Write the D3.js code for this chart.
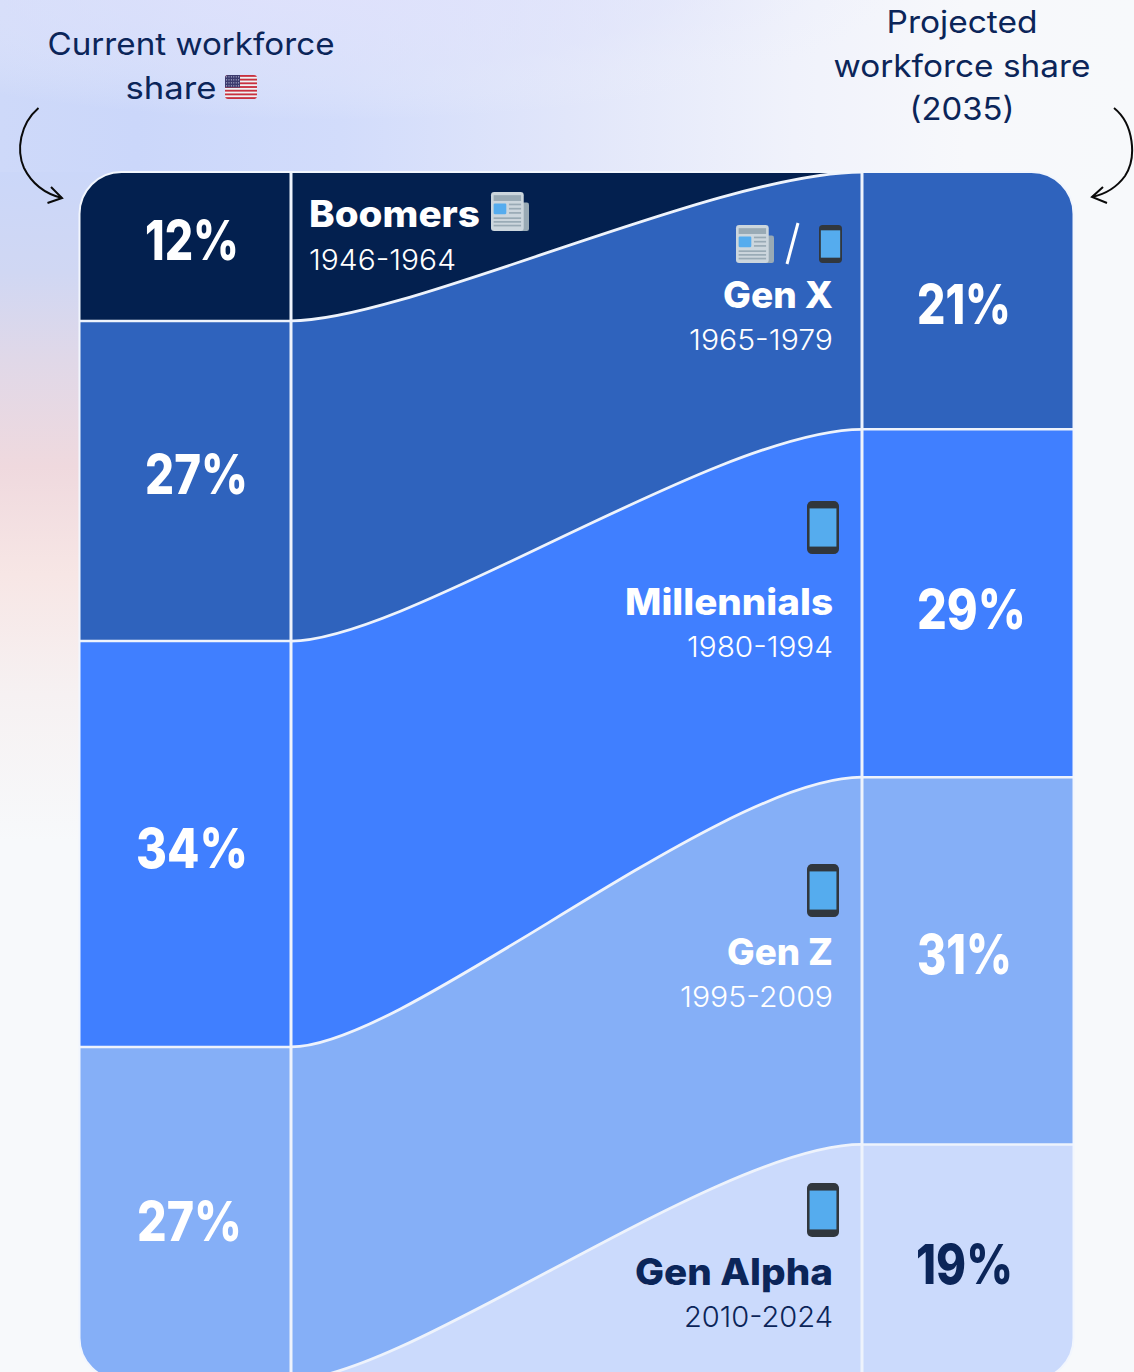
<!DOCTYPE html>
<html><head><meta charset="utf-8">
<script src="https://cdn.jsdelivr.net/npm/d3@7/dist/d3.min.js"></script>
<style>html,body{margin:0;padding:0;background:#f7f9fb;overflow:hidden}svg{display:block}</style>
</head><body><svg id="c" width="1134" height="1372"></svg>
<script>
const generations = ["Boomers","Gen X","Millennials","Gen Z","Gen Alpha"];
const birthYears = ["1946-1964","1965-1979","1980-1994","1995-2009","2010-2024"];
const currentLabels = [12,27,34,27];
const projectedLabels = [21,29,31,19];
// band heights (percent of the column)
const currentBands = [12.33,26.5,33.6,27.57];
const projectedBands = [21.3,28.8,30.4,19.5];
const colors = ["#03204f","#2f63bd","#407fff","#85aff7","#cbdafc"];
const darkText = "#0b2559";

const svg = d3.select("#c");
const defs = svg.append("defs");
function gradient(type,id,stops,attrs){
  const g = defs.append(type).attr("id",id);
  Object.entries(attrs||{}).forEach(([k,v])=>g.attr(k,v));
  stops.forEach(s=>g.append("stop").attr("offset",s[0]).attr("stop-color",s[1]).attr("stop-opacity",s[2]===undefined?1:s[2]));
}
gradient("linearGradient","topBand",[[0,"#ced9f9"],[.12,"#cbd7fa"],[.3,"#d2dcfb"],[.5,"#e1e6fa"],[.7,"#f0f2fb"],[.85,"#f7f8fb"],[1,"#f7f9fb"]],{x1:0,x2:1,y1:0,y2:0});
gradient("linearGradient","leftBand",[[0,"#cbd7f9"],[.15,"#d0d7f3"],[.28,"#e0d8e8"],[.44,"#efd9de"],[.6,"#f7e6e5"],[.78,"#f6f1f2"],[1,"#f7f9fb"]],{x1:0,x2:0,y1:0,y2:1});
gradient("radialGradient","lav",[[0,"#e0e2fc",.9],[.6,"#e2e5fb",.5],[1,"#eef0fb",0]]);
svg.append("rect").attr("width",1134).attr("height",180).attr("fill","url(#topBand)");
svg.append("rect").attr("y",172).attr("width",140).attr("height",670).attr("fill","url(#leftBand)");
svg.append("ellipse").attr("cx",330).attr("cy",-10).attr("rx",560).attr("ry",130).attr("fill","url(#lav)");

const cardTop = 172, cardBottom = 1380, L = 79.5, R = 1073.5, colL = 291, colR = 862, radius = 42;
const handleLeft = 0.2, handleRight = 0.25; // reach of the curve control points, as a share of the column gap
const y = d3.scaleLinear().domain([0,100]).range([cardTop,cardBottom]);
const leftEnds = Array.from(d3.cumsum(currentBands));
const rightEnds = Array.from(d3.cumsum(projectedBands));

defs.append("clipPath").attr("id","card").append("rect")
  .attr("x",L).attr("y",cardTop).attr("width",R-L).attr("height",cardBottom-cardTop).attr("rx",radius);
const card = svg.append("g").attr("clip-path","url(#card)");
card.append("rect").attr("x",L).attr("y",cardTop).attr("width",R-L).attr("height",cardBottom-cardTop).attr("fill",colors[0]);

function flowCurve(a,b){
  const p = d3.path(), w = colR-colL;
  p.moveTo(colL,y(a));
  p.bezierCurveTo(colL+w*handleLeft,y(a),colR-w*handleRight,y(b),colR,y(b));
  return p.toString();
}
const lineColor = "#eef3fc";

// flowing middle: stacked from the top, each later band painted over the previous one
const flows = [
  {fill:colors[1], l:leftEnds[0], r:0},
  {fill:colors[2], l:leftEnds[1], r:rightEnds[0]},
  {fill:colors[3], l:leftEnds[2], r:rightEnds[1]},
  {fill:colors[4], l:leftEnds[3], r:rightEnds[2]}
];
flows.forEach(f=>{
  const curve = flowCurve(f.l,f.r);
  card.append("path").attr("d",curve+`L${colR},${cardBottom+10}L${colL},${cardBottom+10}Z`).attr("fill",f.fill);
  card.append("path").attr("d",curve).attr("fill","none").attr("stroke",lineColor).attr("stroke-width",2.8);
});

// side columns
function column(x0,x1,bands,firstColor){
  let start = 0;
  bands.forEach((b,i)=>{
    card.append("rect").attr("x",x0).attr("y",y(start)).attr("width",x1-x0).attr("height",y(start+b)-y(start))
      .attr("fill",colors[firstColor+i]);
    if(i) card.append("line").attr("x1",x0).attr("x2",x1).attr("y1",y(start)).attr("y2",y(start))
      .attr("stroke",lineColor).attr("stroke-width",2.5);
    start += b;
  });
}
column(L,colL,currentBands,0);
column(colR,R,projectedBands,1);
[colL,colR].forEach(x=>card.append("line").attr("x1",x).attr("x2",x).attr("y1",cardTop).attr("y2",cardBottom)
  .attr("stroke",lineColor).attr("stroke-width",3));
svg.append("rect").attr("x",L).attr("y",cardTop).attr("width",R-L).attr("height",cardBottom-cardTop).attr("rx",radius)
  .attr("fill","none").attr("stroke","#f2f6fd").attr("stroke-width",2);

const FONT = "Inter, 'Open Sans', sans-serif";
function label(s,x,yy,size,weight,fill,anchor,width){
  const t = svg.append("text").attr("x",x).attr("y",yy).attr("font-family",FONT).attr("font-size",size)
    .attr("font-weight",weight).attr("fill",fill).attr("text-anchor",anchor||"start").text(s);
  if(width) t.attr("textLength",width).attr("lengthAdjust","spacingAndGlyphs");
  return t;
}
// headings
label("Current workforce",191,55,31,400,darkText,"middle",287);
label("share",171,99,31,400,darkText,"middle",91);
label("Projected",962,33,31,400,darkText,"middle",151);
label("workforce share",962,77,31,400,darkText,"middle",257);
label("(2035)",962,120,31,400,darkText,"middle",105);

// percentage labels
const fmt = v=>v+"%";
[[145,260,94],[145,494,103],[136,868,112],[137,1241,105]].forEach((p,i)=>
  label(fmt(currentLabels[i]),p[0],p[1],55,800,"#fff","start",p[2]));
[[917,324,94,"#fff"],[917,629,109,"#fff"],[917,974,95,"#fff"],[916,1284,97,darkText]].forEach((p,i)=>
  label(fmt(projectedLabels[i]),p[0],p[1],55,800,p[3],"start",p[2]));

// generation labels
label(generations[0],309,227,37,800,"#fff","start",171);
label(birthYears[0],309,270,29,300,"#fff","start",147);
const rightLabels = [
  [1,308,110,350,144,"#fff"],
  [2,615,208,657,146,"#fff"],
  [3,965,106,1007,153,"#fff"],
  [4,1285,198,1327,149,darkText]
];
rightLabels.forEach(r=>{
  label(generations[r[0]],833,r[1],37,800,r[5],"end",r[2]);
  label(birthYears[r[0]],833,r[3],29,300,r[5],"end",r[4]);
});

// icons
function phone(x,yy,w,h){
  const g = svg.append("g").attr("transform",`translate(${x},${yy})`);
  g.append("rect").attr("width",w).attr("height",h).attr("rx",w*.16).attr("fill","#31373d");
  g.append("rect").attr("x",w*.08).attr("y",h*.14).attr("width",w*.84).attr("height",h*.72).attr("fill","#55acee");
}
function paper(x,yy,w,h){
  const g = svg.append("g").attr("transform",`translate(${x},${yy})`);
  const u = w/36;
  g.append("rect").attr("x",26*u).attr("y",10*u).attr("width",10*u).attr("height",h-10*u).attr("rx",2*u).attr("fill","#99aab5");
  g.append("rect").attr("width",31*u).attr("height",h).attr("rx",3*u).attr("fill","#ccd6dd");
  g.append("rect").attr("x",2.5*u).attr("y",3*u).attr("width",26*u).attr("height",5.5*u).attr("fill","#99aab5");
  g.append("rect").attr("x",2.5*u).attr("y",11*u).attr("width",12*u).attr("height",10*u).attr("rx",1*u).attr("fill","#55acee");
  [11,15,19].forEach(v=>g.append("rect").attr("x",17*u).attr("y",v*u).attr("width",11.5*u).attr("height",1.6*u).attr("fill","#99aab5"));
  [24,27.5,31].forEach(v=>g.append("rect").attr("x",2.5*u).attr("y",v*u).attr("width",26*u).attr("height",1.6*u).attr("fill","#99aab5"));
}
paper(491,192,38,39);
paper(736,225,38,38);
svg.append("line").attr("x1",787).attr("y1",264).attr("x2",798).attr("y2",223).attr("stroke","#fff").attr("stroke-width",3);
phone(819,225,23,38);
phone(807,501,32,53);
phone(807,864,32,53);
phone(807,1183,32,54);

// flag
const flagG = svg.append("g").attr("transform","translate(225,75)");
defs.append("clipPath").attr("id","flagclip").append("rect").attr("width",32).attr("height",24).attr("rx",3);
const fg = flagG.append("g").attr("clip-path","url(#flagclip)");
fg.append("rect").attr("width",32).attr("height",24).attr("fill","#eef2f5");
d3.range(0,7).forEach(i=>fg.append("rect").attr("y",i*24/6.5).attr("width",32).attr("height",24/13).attr("fill","#c8303f"));
fg.append("rect").attr("width",15).attr("height",12.5).attr("fill","#3c3b6e");
d3.range(0,4).forEach(r=>d3.range(0,6).forEach(c=>fg.append("circle").attr("cx",1.6+c*2.4).attr("cy",1.8+r*3).attr("r",.6).attr("fill","#c9cde4")));

// arrows
const arrow = (d)=>svg.append("path").attr("d",d).attr("fill","none").attr("stroke","#0a0a0a").attr("stroke-width",2);
arrow("M38.5,108C20,124 16,150 24,168C32,184 46,194 62,198");
arrow("M51,187L62,198L47.5,203");
arrow("M1114,108C1134,124 1137,158 1125,176C1117,187 1106,194 1092,197");
arrow("M1103,187L1092,197L1107,203");
</script></body></html>
